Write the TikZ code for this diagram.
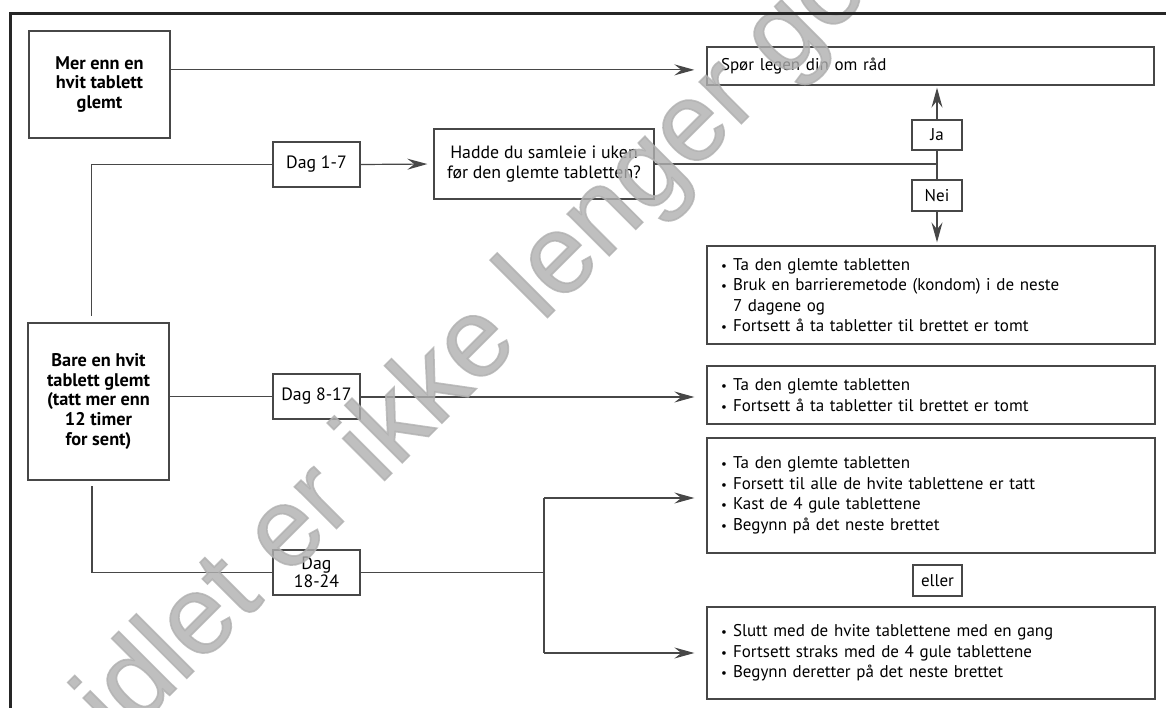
\documentclass[tikz,border=0pt]{standalone}
\usepackage{fontspec}
\setmainfont{PT Sans}
\newfontfamily\wmfont{Liberation Sans}[FakeBold=1.5]
\usetikzlibrary{arrows.meta,calc}
\newcommand{\bul}{\makebox[12pt][l]{\fontsize{13}{13}\selectfont\textbullet}}
\newcommand{\bulind}{\hspace*{12pt}}
\begin{document}
\begin{tikzpicture}[x=1pt,y=-1pt,
  box/.style={draw=black!72, line width=1.3pt, inner sep=0pt, align=center,
    font=\fontsize{17}{20.5}\selectfont},
  bigbox/.style={box, font=\fontsize{17.8}{20.7}\selectfont},
  boldbox/.style={box, font=\bfseries\fontsize{18.3}{19.8}\selectfont},
  listbox/.style={box, minimum width=448pt, text width=420pt, align=left},
  line/.style={draw=black!72, line width=1.2pt},
  arr/.style={line, -{Stealth[length=20pt,width=11pt,inset=7pt]}, shorten >=12pt},
]
\useasboundingbox (0,0) rectangle (1166,708);
\clip (0,0) rectangle (1166,708);
\fill[white] (0,0) rectangle (1166,708);

% left boxes
\node[boldbox, minimum width=141pt, minimum height=107pt] (mer) at (99.5,84.5)
  {Mer enn en\\hvit tablett\\glemt};
\node[boldbox, minimum width=141pt, minimum height=157pt] (bare) at (98.5,401.5)
  {Bare en hvit\\tablett glemt\\(tatt mer enn\\12 timer\\for sent)};

% day boxes
\node[bigbox, minimum width=87pt, minimum height=45pt] (d17) at (316.5,164.5) {Dag 1-7};
\node[bigbox, minimum width=87pt, minimum height=45pt] (d817) at (316.5,396.5) {Dag 8-17};
\node[bigbox, minimum width=87pt, minimum height=45pt, font=\fontsize{17.8}{18}\selectfont] (d1824) at (316.5,572.5) {Dag\\18-24};

% question
\node[bigbox, minimum width=220pt, minimum height=70pt] (hadde) at (544,164)
  {Hadde du samleie i uken\\før den glemte tabletten?};

% right boxes
\node[box, minimum width=447pt, minimum height=38pt, text width=419pt, align=left] (spor) at (930.5,66)
  {Spør legen din om råd};
\node[box, minimum width=50pt, minimum height=30pt] (ja) at (937,135) {Ja};
\node[box, minimum width=50pt, minimum height=31pt] (nei) at (937,195.5) {Nei};

\node[listbox, minimum height=98pt] (b1) at (931,295)
  {\bul Ta den glemte tabletten\\
   \bul Bruk en barrieremetode (kondom) i de neste\\
   \bulind 7 dagene og\\
   \bul Fortsett å ta tabletter til brettet er tomt};
\node[listbox, minimum height=58pt] (b2) at (931,395)
  {\bul Ta den glemte tabletten\\
   \bul Fortsett å ta tabletter til brettet er tomt};
\node[listbox, minimum height=115pt] (b3) at (931,495.5)
  {\bul Ta den glemte tabletten\\
   \bul Forsett til alle de hvite tablettene er tatt\\
   \bul Kast de 4 gule tablettene\\
   \bul Begynn på det neste brettet};
\node[box, minimum width=49pt, minimum height=31pt] (eller) at (937.5,580.5) {eller};
\node[listbox, minimum height=92pt] (b4) at (931,653)
  {\bul Slutt med de hvite tablettene med en gang\\
   \bul Fortsett straks med de 4 gule tablettene\\
   \bul Begynn deretter på det neste brettet};

% connectors
\draw[arr] ($(mer.north east)!0.365!(mer.south east)$) coordinate (m1) -- (m1 -| spor.west);
\draw[line, shorten >=6pt] (d17.west) -| ([xshift=-7pt]bare.north);
\draw[line] (d817.west -| bare.east) -- (d817.west);
\draw[line, shorten >=5pt] (d1824.west) -| ([xshift=-6.5pt]bare.south);
\draw[arr, shorten >=6pt] (d17.east) -- (hadde.west);
\draw[line] (hadde.east) -- (hadde.east -| ja.south);
\draw[line] (ja.south) -- (nei.north);
\draw[arr, shorten >=2pt] (ja.north) -- (ja.north |- spor.south);
\draw[arr, shorten >=3pt] (nei.south) -- (nei.south |- b1.north);
\draw[arr] ([yshift=-0.5pt]d817.east) -- ([yshift=-0.5pt]d817.east -| b2.west);
\coordinate (j2) at (544,572.5);
\draw[line] (d1824.east) -- (j2);
\draw[line] ([yshift=-2.5pt]j2 |- b3.west) -- (j2 |- b4.west);
\draw[arr] ([yshift=-2.5pt]j2 |- b3.west) -- ([yshift=-2.5pt]b3.west);
\draw[arr] (j2 |- b4.west) -- (b4.west);

% watermark
\node[rotate=45, anchor=base west, inner sep=0pt, text=black!31, text opacity=0.8,
  font=\wmfont\fontsize{112}{112}\selectfont] (wm) at (287,578)
  {\llap{Legemidlet }er ikke lenger godkjent};

% outer frame
\draw[black!85, line width=3.5pt] (1175,13.5) -- (10.7,13.5) -- (10.7,720);
\end{tikzpicture}
\end{document}
